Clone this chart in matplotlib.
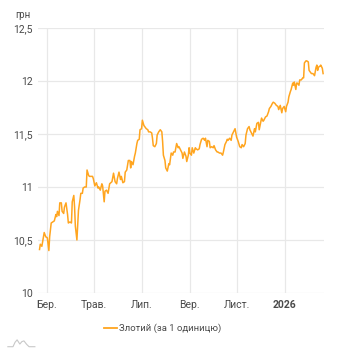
import matplotlib
matplotlib.use("Agg")
import matplotlib.pyplot as plt
from matplotlib.lines import Line2D
import pandas as pd

# ================== Дані ==================
# днi вiд 2025-03-01, курс гривнi за 1 злотий
days = [-9, -8, -6, -4, -3, -1, 1, 3, 4, 6, 8, 10, 12, 13, 14, 16, 17, 19, 20, 22,
        23, 25, 27, 28, 30, 32, 33, 35, 36, 37, 39, 40, 41, 43, 44, 46, 47, 49, 51, 52,
        54, 55, 57, 59, 60, 62, 64, 66, 67, 69, 71, 72, 74, 75, 77, 79, 81,
        84, 86, 88, 90, 91, 93, 95, 96, 98, 100, 101, 103, 105, 107, 108, 109, 111, 113,
        114, 116, 117, 119, 120, 122, 123, 125, 126, 128, 130, 131, 133, 135, 136, 137,
        139, 141, 142, 144, 146, 148, 149, 150, 152, 153, 155, 157, 158, 160, 162, 163,
        165, 167, 169, 170, 172, 174, 175, 177,
        179, 180, 182, 183, 184, 186, 187, 189, 191, 192, 194, 196, 197, 199, 201, 203,
        204, 206, 207, 209, 210, 212, 214, 215, 217, 219, 220, 222, 224, 226, 227, 229,
        231, 232, 233, 235, 237, 238, 240, 242, 243, 244, 246, 248, 250, 251, 253, 255,
        256, 258, 260, 261, 263, 265, 267, 268, 270, 272, 273,
        276, 278, 279, 281, 283, 285, 286, 288, 290, 291, 293, 295, 297, 298, 300, 302,
        303, 305, 307, 308, 310, 311, 313, 314, 316, 317, 318, 320, 321, 322, 324, 325,
        327, 329, 330, 331, 333, 334, 336, 337, 339, 340, 342, 344, 346, 347, 348, 349,
        351, 352, 354, 355]
rates = [10.41, 10.46, 10.44, 10.53, 10.57, 10.53, 10.52, 10.40, 10.53, 10.66, 10.67, 10.68,
         10.74, 10.72, 10.77, 10.73, 10.85, 10.85, 10.77, 10.75, 10.81, 10.85, 10.74, 10.66,
         10.67, 10.66, 10.86, 10.92, 10.81, 10.63, 10.50, 10.64, 10.78, 10.88, 10.94, 10.94,
         10.99, 11.00, 11.00, 11.16, 11.11, 11.10, 11.10, 11.10, 11.08, 11.01, 11.04, 10.99,
         11.00, 10.97, 11.03, 11.01, 10.86, 10.96, 10.97, 10.94, 11.03,
         11.05, 11.13, 11.05, 11.03, 11.08, 11.14, 11.07, 11.10, 11.04, 11.05, 11.14, 11.16,
         11.25, 11.25, 11.18, 11.24, 11.21, 11.29, 11.32, 11.41, 11.44, 11.45, 11.54, 11.55,
         11.63, 11.58, 11.57, 11.55, 11.54, 11.52, 11.52, 11.51, 11.46, 11.39, 11.38, 11.41,
         11.49, 11.52, 11.54, 11.52, 11.43, 11.30, 11.25, 11.18, 11.15, 11.22, 11.21, 11.32,
         11.30, 11.33, 11.33, 11.41, 11.37, 11.38, 11.35, 11.32, 11.27, 11.33,
         11.29, 11.24, 11.30, 11.37, 11.32, 11.30, 11.37, 11.32, 11.37, 11.36, 11.35, 11.36,
         11.40, 11.45, 11.46, 11.44, 11.46, 11.38, 11.44, 11.43, 11.37, 11.38, 11.37, 11.39,
         11.35, 11.33, 11.33, 11.32, 11.32, 11.30, 11.33, 11.40, 11.43, 11.45, 11.44, 11.46,
         11.44, 11.49, 11.52, 11.55, 11.51, 11.47, 11.43, 11.38, 11.37, 11.40, 11.38, 11.41,
         11.49, 11.55, 11.57, 11.54, 11.51, 11.48, 11.55, 11.52, 11.60, 11.61, 11.54,
         11.65, 11.62, 11.63, 11.66, 11.67, 11.71, 11.74, 11.76, 11.79, 11.80, 11.79, 11.77,
         11.76, 11.73, 11.77, 11.70, 11.74, 11.76, 11.71, 11.76, 11.80, 11.85, 11.90, 11.92,
         11.98, 11.96, 11.99, 11.92, 11.98, 11.98, 11.96, 12.01, 12.01, 12.03, 12.03, 12.17,
         12.19, 12.19, 12.18, 12.10, 12.08, 12.07, 12.07, 12.05, 12.13, 12.15, 12.10, 12.13,
         12.14, 12.15, 12.12, 12.07]

tick_dates = ["2025-03-01", "2025-05-01", "2025-07-01", "2025-09-01", "2025-11-01", "2026-01-01"]
tick_labels = ["Бер.", "Трав.", "Лип.", "Вер.", "Лист.", "2026"]
y_ticks = [10, 10.5, 11, 11.5, 12, 12.5]
y_labels = ["10", "10,5", "11", "11,5", "12", "12,5"]

dates = pd.Timestamp("2025-03-01") + pd.to_timedelta(days, unit="D")
line_color = "#FFA51F"
grid_color = "#E8E8E8"
text_color = "#4A4A4A"

# ================== Графік ==================
plt.rcParams['font.family'] = ['Roboto', 'DejaVu Sans']
fig = plt.figure(figsize=(3.42, 3.5), dpi=100)
ax = fig.add_axes([0.111, 0.163, 0.836, 0.757])

ax.plot(dates, rates, color=line_color, linewidth=1.1, solid_joinstyle='round')

ax.set_ylim(10, 12.5)
ax.set_yticks(y_ticks)
ax.set_yticklabels(y_labels)
ax.set_xlim(pd.Timestamp("2025-02-18"), pd.Timestamp("2026-02-20"))
ax.set_xticks(pd.to_datetime(tick_dates))
ax.set_xticklabels(tick_labels)
ax.get_xticklabels()[-1].set_fontweight('bold')
ax.get_xticklabels()[-1].set_color('#222222')

ax.grid(True, color=grid_color, linewidth=0.9)
ax.set_axisbelow(True)
for s in ax.spines.values():
    s.set_visible(False)
ax.tick_params(axis='both', length=0, labelsize=7.5, colors=text_color)
ax.tick_params(axis='y', pad=4)
ax.tick_params(axis='x', pad=5)

fig.text(0.044, 0.958, "грн", fontsize=7, color=text_color, va='center')

# легенда
fig.add_artist(Line2D([0.304, 0.342], [0.063, 0.063], color=line_color, linewidth=1.3))
fig.text(0.348, 0.063, "Злотий (за 1 одиницю)", fontsize=6.8, color=text_color, va='center')

# логотип
fig.add_artist(Line2D([0.023, 0.038, 0.044, 0.050, 0.058, 0.064, 0.070, 0.078, 0.085, 0.102],
                      [0.0094, 0.0094, 0.022, 0.029, 0.017, 0.024, 0.026, 0.016, 0.0094, 0.0094],
                      color="#C8C8C8", linewidth=0.8))

fig.savefig("out.png", dpi=100)
